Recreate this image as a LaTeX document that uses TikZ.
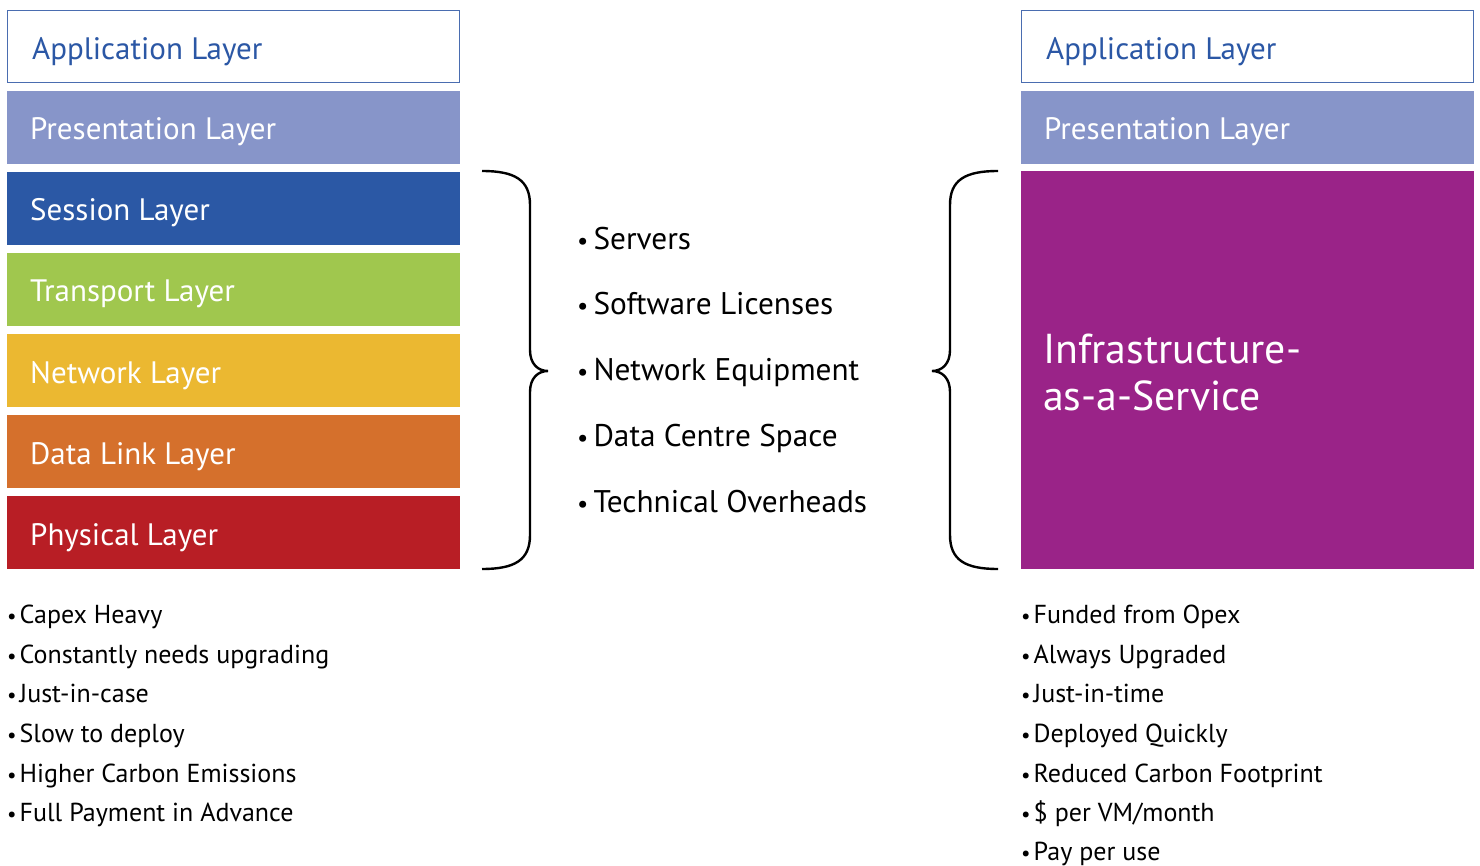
\documentclass[tikz,border=0pt]{standalone}
\usepackage{fontspec}
\setmainfont{PT Sans}
\definecolor{appblue}{HTML}{2B57A5}
\definecolor{appborder}{HTML}{4A6DB0}
\definecolor{presc}{HTML}{8795C9}
\definecolor{sessc}{HTML}{2B58A5}
\definecolor{transc}{HTML}{A0C74E}
\definecolor{netc}{HTML}{EBB831}
\definecolor{dlc}{HTML}{D5702C}
\definecolor{physc}{HTML}{B81E25}
\definecolor{iaasc}{HTML}{9A2388}
\newcommand{\bulm}{{\fontsize{25}{25}\selectfont •}\hspace{5pt}}
\newcommand{\bull}{{\fontsize{21}{21}\selectfont •}\hspace{3pt}}
\begin{document}
\begin{tikzpicture}[x=1pt,y=-1pt,
  layer/.style={anchor=north west, minimum width=453pt, minimum height=73pt, inner sep=0pt, outer sep=0pt},
  lab/.style={anchor=base west, inner sep=0pt, font=\fontsize{31}{36}\selectfont},
  mid/.style={anchor=base west, inner sep=0pt, font=\fontsize{31.3}{36}\selectfont},
  low/.style={anchor=base west, inner sep=0pt, font=\fontsize{26}{30}\selectfont},
  brace/.style={draw=black, line width=2.4pt}]
\useasboundingbox (0,0) rectangle (1480,866);
% left column
\node[layer, draw=appborder, line width=1.3pt, fill=white, minimum width=452pt, minimum height=72pt] (lapp) at (7.5,10.5) {};
\node[layer, fill=presc] (lpres) at (7,91) {};
\node[layer, fill=sessc] (lsess) at (7,172) {};
\node[layer, fill=transc] (ltrans) at (7,253) {};
\node[layer, fill=netc] (lnet) at (7,334) {};
\node[layer, fill=dlc] (ldl) at (7,415) {};
\node[layer, fill=physc] (lphys) at (7,496) {};
\node[lab, text=appblue] (tlapp) at (32,60) {Application Layer};
\node[lab, text=white] (tlpres) at (30,140) {Presentation Layer};
\node[lab, text=white] (tlsess) at (30,221) {Session Layer};
\node[lab, text=white] (tltrans) at (30,302) {Transport Layer};
\node[lab, text=white] (tlnet) at (30,383) {Network Layer};
\node[lab, text=white] (tldl) at (30,464) {Data Link Layer};
\node[lab, text=white] (tlphys) at (30,545) {Physical Layer};
% right column
\node[layer, draw=appborder, line width=1.3pt, fill=white, minimum width=452pt, minimum height=72pt] (rapp) at (1021.5,10.5) {};
\node[layer, fill=presc] (rpres) at (1021,91) {};
\node[layer, fill=iaasc, minimum height=398pt] (riaas) at (1021,171) {};
\node[lab, text=appblue] (trapp) at (1046,60) {Application Layer};
\node[lab, text=white] (trpres) at (1044,140) {Presentation Layer};
\node[anchor=base west, inner sep=0pt, text=white, font=\fontsize{41.8}{48}\selectfont] (tiaas1) at (1043,363) {Infrastructure-};
\node[anchor=base west, inner sep=0pt, text=white, font=\fontsize{41.8}{48}\selectfont] (tiaas2) at (1043,410) {as-a-Service};
% braces
\draw[brace] (482,171) .. controls (515,171) and (530,180) .. (530,205) -- (530,350)
  .. controls (530,364) and (538,371) .. (548,371) .. controls (538,371) and (530,378) .. (530,392)
  -- (530,535) .. controls (530,560) and (515,569) .. (482,569);
\draw[brace] (998,171) .. controls (965,171) and (950,180) .. (950,205) -- (950,350)
  .. controls (950,364) and (942,371) .. (932,371) .. controls (942,371) and (950,378) .. (950,392)
  -- (950,535) .. controls (950,560) and (965,569) .. (998,569);
% middle list
\node[mid] (m1) at (577,250) {\bulm Servers};
\node[mid] (m2) at (577,315) {\bulm Software Licenses};
\node[mid] (m3) at (577,381) {\bulm Network Equipment};
\node[mid] (m4) at (577,446) {\bulm Data Centre Space};
\node[mid] (m5) at (577,512) {\bulm Technical Overheads};
% lower left list
\node[low] (l1) at (7,623) {\bull Capex Heavy};
\node[low] (l2) at (7,663) {\bull Constantly needs upgrading};
\node[low] (l3) at (7,702) {\bull Just-in-case};
\node[low] (l4) at (7,742) {\bull Slow to deploy};
\node[low] (l5) at (7,782) {\bull Higher Carbon Emissions};
\node[low] (l6) at (7,821) {\bull Full Payment in Advance};
% lower right list
\node[low] (r1) at (1021,623) {\bull Funded from Opex};
\node[low] (r2) at (1021,663) {\bull Always Upgraded};
\node[low] (r3) at (1021,702) {\bull Just-in-time};
\node[low] (r4) at (1021,742) {\bull Deployed Quickly};
\node[low] (r5) at (1021,782) {\bull Reduced Carbon Footprint};
\node[low] (r6) at (1021,821) {\bull \$ per VM/month};
\node[low] (r7) at (1021,860) {\bull Pay per use};
\end{tikzpicture}
\end{document}
